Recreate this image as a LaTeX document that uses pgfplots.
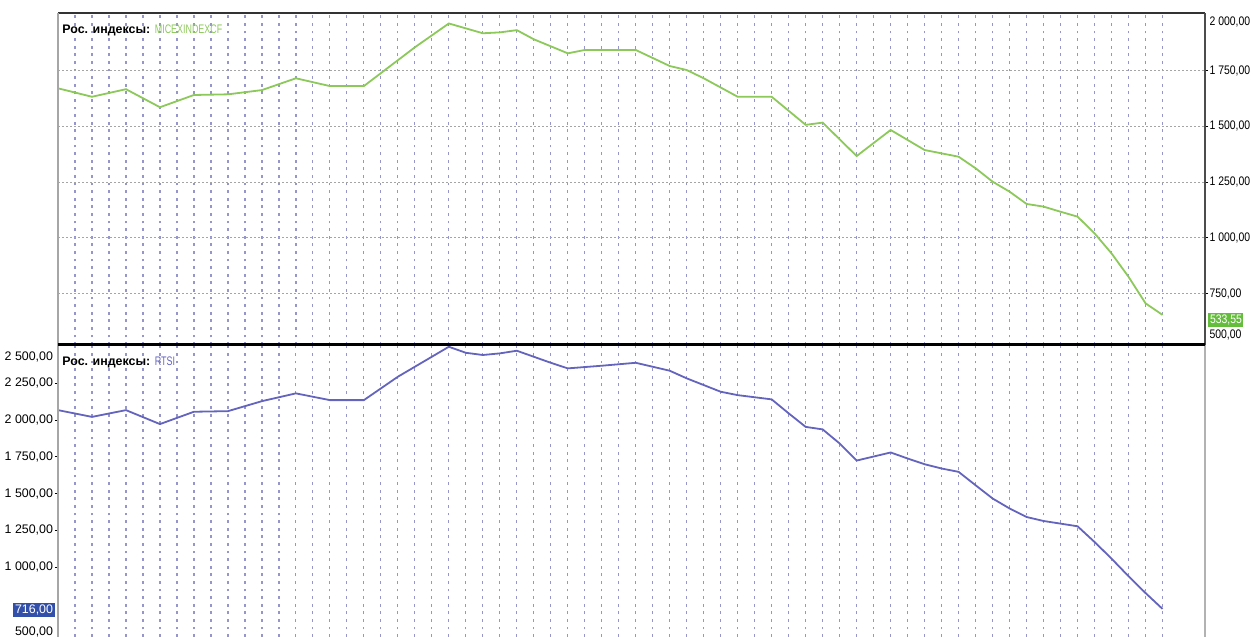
\documentclass[border=0pt]{standalone}
\usepackage{fontspec}
\setmainfont{Liberation Sans}
\usepackage{graphicx}
\usepackage{pgfplots}
\usepackage{pgfplotstable}
\pgfplotsset{compat=1.18}

\definecolor{micex}{RGB}{140,200,90}
\definecolor{rts}{RGB}{100,100,190}
\definecolor{vgrid}{RGB}{150,150,205}
\definecolor{hgrid}{RGB}{165,165,165}
\definecolor{micexbox}{RGB}{100,190,60}
\definecolor{rtsbox}{RGB}{50,80,170}

% k = bar index on the grid, v = index value
\pgfplotstableread{
k v
0 1671
2 1633
4 1667
6 1586
8 1641
10 1644
12 1663
14 1716
16 1681
18 1681
21 1855
23 1962
25 1918
26 1922
27 1932
28 1891
30 1828
31 1843
34 1843
36 1771
37 1753
38 1716
40 1633
42 1633
44 1507
45 1517
47 1367
49 1484
50 1439
51 1394
52 1379
53 1364
54 1312
55 1252
56 1207
57 1152
58 1140
59 1117
60 1095
61 1020
62 930
63 825
64 706
65 654
}\micexdata

\pgfplotstableread{
k v
0 2068
2 2022
4 2068
6 1973
8 2057
10 2061
12 2129
14 2182
16 2136
18 2136
20 2295
23 2499
24 2458
25 2443
26 2454
27 2472
29 2390
30 2352
32 2370
34 2390
36 2336
37 2284
39 2193
40 2170
42 2141
43 2046
44 1954
45 1937
46 1841
47 1725
49 1780
50 1739
51 1700
52 1671
53 1648
54 1557
55 1467
56 1399
57 1341
58 1314
59 1296
60 1278
61 1171
62 1058
63 938
64 824
65 716
}\rtsdata

\newcommand{\lbl}{\fontsize{6.2}{7}\selectfont}
% condensed label for the right-hand scale
\newcommand{\rl}[1]{\scalebox{0.84}[1]{#1}}

\pgfplotsset{panel/.style={
    scale only axis,
    width=573.5pt,
    xmin=0, xmax=67.5,
    xtick={1,...,65},
    xticklabels={},
    xtick style={draw=none},
    xmajorgrids=true,
    x grid style={vgrid, line width=0.6pt, dash pattern=on 1.4pt off 2.4pt},
    axis line style={draw=none},
    tick align=outside,
    major tick length=1.5pt,
    ytick style={black, line width=0.5pt},
    tick label style={font=\lbl},
    clip=false,
}}

\begin{document}
\begin{tikzpicture}
\useasboundingbox (0,0) rectangle (627.5pt,318.5pt);

\begin{axis}[panel, name=top,
    at={(29pt,146pt)}, anchor=south west,
    height=166pt,
    ymin=519, ymax=2009,
    ytick={750,1000,1250,1500,1750},
    yticklabels={\rl{750,00},\rl{1 000,00},\rl{1 250,00},\rl{1 500,00},\rl{1 750,00}},
    ytick pos=right, yticklabel pos=right,
    yticklabel style={inner xsep=0.6pt},
    ymajorgrids=true,
    y grid style={hgrid, line width=0.5pt, dash pattern=on 1pt off 1pt},
]
\addplot[micex, line width=0.9pt] table[x=k, y=v] {\micexdata};
\node[anchor=west, inner sep=0, xshift=2pt, yshift=-8.5pt] at (rel axis cs:0,1)
    {\lbl\textbf{Рос. индексы:} \textcolor{micex}{\scalebox{0.72}[1]{MICEXINDEXCF}}};
\node[anchor=west, inner sep=0.6pt, xshift=1.5pt, yshift=-4.5pt, font=\lbl] at (rel axis cs:1,1) {\rl{2 000,00}};
\node[anchor=west, inner sep=0.6pt, xshift=1.5pt, yshift=5pt, font=\lbl] at (rel axis cs:1,0) {\rl{500,00}};
\node[anchor=west, inner sep=0.8pt, xshift=1.5pt, yshift=12.5pt, fill=micexbox, text=white, font=\lbl] at (rel axis cs:1,0) {\rl{533,55}};
\end{axis}

\begin{axis}[panel, name=bot,
    at={(29pt,0pt)}, anchor=south west,
    height=146pt,
    ymin=525, ymax=2511,
    ytick={1000,1250,1500,1750,2000,2250},
    yticklabels={{1 000,00},{1 250,00},{1 500,00},{1 750,00},{2 000,00},{2 250,00}},
    ytick pos=left,
    yticklabel style={inner xsep=0.8pt},
]
\addplot[rts, line width=0.9pt] table[x=k, y=v] {\rtsdata};
\node[anchor=west, inner sep=0, xshift=2pt, yshift=-8.5pt] at (rel axis cs:0,1)
    {\lbl\textbf{Рос. индексы:} \textcolor{rts}{\scalebox{0.72}[1]{RTSI}}};
\node[anchor=east, inner sep=0.8pt, xshift=-1.5pt, yshift=-6pt, font=\lbl] at (rel axis cs:0,1) {2 500,00};
\node[anchor=east, inner sep=0.8pt, xshift=-1.5pt, yshift=13.5pt, fill=rtsbox, text=white, font=\lbl] at (rel axis cs:0,0) {716,00};
\node[anchor=east, inner sep=0.8pt, xshift=-1.5pt, yshift=2.5pt, font=\lbl] at (rel axis cs:0,0) {500,00};
\end{axis}

% panel frames
\draw[black!80, line width=0.8pt] (top.north west) -- (top.north east);
\draw[black!70, line width=0.8pt] (top.south east) -- (top.north east);
\draw[gray!60, line width=1pt] (bot.south east) -- (bot.north east);
\draw[gray!70, line width=1pt] (bot.south west) -- (top.north west);
\draw[black, line width=1.5pt] (bot.north west) -- (bot.north east);
\end{tikzpicture}
\end{document}
